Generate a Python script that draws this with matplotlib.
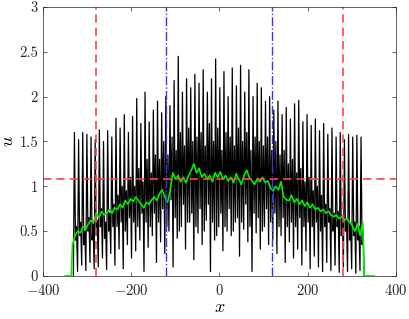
import numpy as np
import matplotlib
matplotlib.use('Agg')
import matplotlib.pyplot as plt

plt.rcParams['font.family'] = 'serif'
plt.rcParams['font.serif'] = ['cmr10']
plt.rcParams['mathtext.fontset'] = 'cm'
plt.rcParams['axes.unicode_minus'] = False
plt.rcParams['axes.formatter.use_mathtext'] = True

# black curve, one cycle = peak, dip, bump, trough (left to right)
peaks = [1.60, 1.52, 1.60, 1.58, 1.55, 1.52, 1.63, 1.50, 1.62, 1.55,
         1.76, 1.65, 1.80, 1.60, 1.78, 1.98, 1.70, 2.05, 1.72, 1.85,
         1.95, 1.82, 2.00, 1.90, 2.18, 2.45, 2.05, 2.20, 2.10, 2.25,
         2.15, 2.30, 2.05, 2.20, 2.42, 2.10, 2.28, 2.00, 2.32, 2.12,
         2.35, 2.05, 2.30, 2.00, 2.15, 2.10, 1.95, 2.00, 1.85, 1.95,
         1.80, 1.88, 1.75, 1.92, 1.96, 1.72, 1.80, 1.68, 1.75, 1.62,
         1.70, 1.58, 1.65, 1.55, 1.60, 1.52, 1.58, 1.55, 1.57, 1.55]
dips = [0.40, 0.45, 0.35, 0.50, 0.40, 0.45, 0.55, 0.42, 0.50, 0.55,
        0.55, 0.60, 0.50, 0.65, 0.60, 0.55, 0.70, 0.60, 0.55, 0.70,
        0.60, 0.75, 0.55, 0.85, 0.65, 0.50, 0.80, 0.60, 0.70, 0.55,
        0.75, 0.50, 0.80, 0.60, 0.45, 0.70, 0.55, 0.75, 0.50, 0.65,
        0.60, 0.80, 0.55, 0.70, 0.65, 0.50, 0.75, 0.60, 0.70, 0.55,
        0.65, 0.55, 0.60, 0.55, 0.65, 0.55, 0.60, 0.55, 0.60, 0.50,
        0.55, 0.60, 0.50, 0.55, 0.45, 0.50, 0.40, 0.45, 0.40, 0.35]
bumps = [0.55, 0.60, 0.50, 0.65, 0.58, 0.62, 0.75, 0.60, 0.70, 0.80,
         0.90, 1.00, 0.95, 1.10, 1.00, 1.20, 1.05, 1.30, 1.15, 1.35,
         1.30, 1.50, 1.35, 1.55, 1.40, 1.60, 1.45, 1.65, 1.50, 1.55,
         1.60, 1.45, 1.70, 1.50, 1.65, 1.40, 1.60, 1.55, 1.45, 1.65,
         1.50, 1.60, 1.40, 1.55, 1.50, 1.45, 1.55, 1.40, 1.50, 1.35,
         1.40, 1.25, 1.30, 1.15, 1.20, 1.05, 1.10, 0.95, 1.00, 0.90,
         0.80, 0.75, 0.70, 0.72, 0.65, 0.62, 0.58, 0.60, 0.55, 0.50]
troughs = [0.05, 0.12, 0.06, 0.15, 0.08, 0.10, 0.20, 0.07, 0.25, 0.12,
           0.30, 0.08, 0.35, 0.20, 0.28, 0.40, 0.05, 0.32, 0.45, 0.15,
           0.38, 0.25, 0.50, 0.10, 0.42, 0.55, 0.30, 0.60, 0.18, 0.48,
           0.35, 0.62, 0.05, 0.40, 0.55, 0.28, 0.50, 0.45, 0.60, 0.22,
           0.52, 0.38, 0.05, 0.48, 0.30, 0.55, 0.35, 0.40, 0.25, 0.45,
           0.15, 0.38, 0.20, 0.30, 0.12, 0.28, 0.08, 0.22, 0.10, 0.05,
           0.15, 0.06, 0.12, 0.04, 0.10, 0.05, 0.08, 0.03, 0.06, 0.0]

# green (averaged) curve
green = [0.35, 0.45, 0.50, 0.48, 0.55, 0.52, 0.58, 0.62, 0.60, 0.70,
         0.65, 0.72, 0.68, 0.70, 0.74, 0.70, 0.76, 0.74, 0.80, 0.76,
         0.84, 0.80, 0.86, 0.83, 0.88, 0.84, 0.80, 0.76, 0.82, 0.80,
         0.85, 0.88, 0.84, 0.92, 0.96, 0.88, 0.82, 0.95, 1.15, 1.08,
         1.12, 1.05, 1.10, 1.04, 1.12, 1.18, 1.25, 1.15, 1.20, 1.10,
         1.14, 1.08, 1.12, 1.05, 1.15, 1.10, 1.16, 1.08, 1.12, 1.06,
         1.10, 1.04, 1.14, 1.08, 1.02, 1.12, 1.18, 1.10, 1.06, 1.02,
         1.08, 1.05, 1.10, 1.04, 1.06, 0.98, 0.95, 1.00, 0.96, 1.05,
         0.88, 0.85, 0.84, 0.90, 0.82, 0.86, 0.80, 0.84, 0.78, 0.82,
         0.76, 0.80, 0.74, 0.76, 0.72, 0.74, 0.70, 0.72, 0.68, 0.66,
         0.68, 0.64, 0.66, 0.62, 0.64, 0.60, 0.56, 0.50, 0.58, 0.45,
         0.60]

x_front = 280
x_core = 120
u_level = 1.08

u_black = [0.0]
for p, a, b, t in zip(peaks, dips, bumps, troughs):
    u_black += [p, a, b, t]
x_black = np.linspace(-331, 328, len(u_black))

x_green = np.linspace(-333, 325, len(green))
x_green = np.concatenate([[-350, -336], x_green, [328, 350]])
u_green = np.concatenate([[0, 0], green, [0, 0]])

fig = plt.figure(figsize=(4.09, 3.19), dpi=100)
ax = fig.add_axes([0.105, 0.135, 0.863, 0.843])

ax.plot(x_black, u_black, color='black', lw=0.9)
ax.plot(x_green, u_green, color='#00ee00', lw=1.2)
ax.axvline(-x_front, color='#ff4444', ls='--', lw=1.2, dashes=(5, 3))
ax.axvline(x_front, color='#ff4444', ls='--', lw=1.2, dashes=(5, 3))
ax.axvline(-x_core, color='#3333ff', ls='-.', lw=1.0)
ax.axvline(x_core, color='#3333ff', ls='-.', lw=1.0)
ax.axhline(u_level, color='#ff4444', ls='--', lw=1.2, dashes=(5, 3))

ax.set_xlim(-400, 400)
ax.set_ylim(0, 3)
ax.set_xticks([-400, -200, 0, 200, 400])
ax.set_yticks([0, 0.5, 1, 1.5, 2, 2.5, 3])
ax.set_yticklabels(['0', '0.5', '1', '1.5', '2', '2.5', '3'])
ax.tick_params(direction='in', top=True, right=True, labelsize=10.5,
               colors='#262626', length=3, width=0.5)
ax.tick_params(axis='x', pad=5)
for s in ax.spines.values():
    s.set_color('#262626')
    s.set_linewidth(0.5)
ax.set_xlabel('$x$', fontsize=13, labelpad=1)
ax.set_ylabel('$u$', fontsize=13, labelpad=2)

fig.savefig('out.png', dpi=100)
